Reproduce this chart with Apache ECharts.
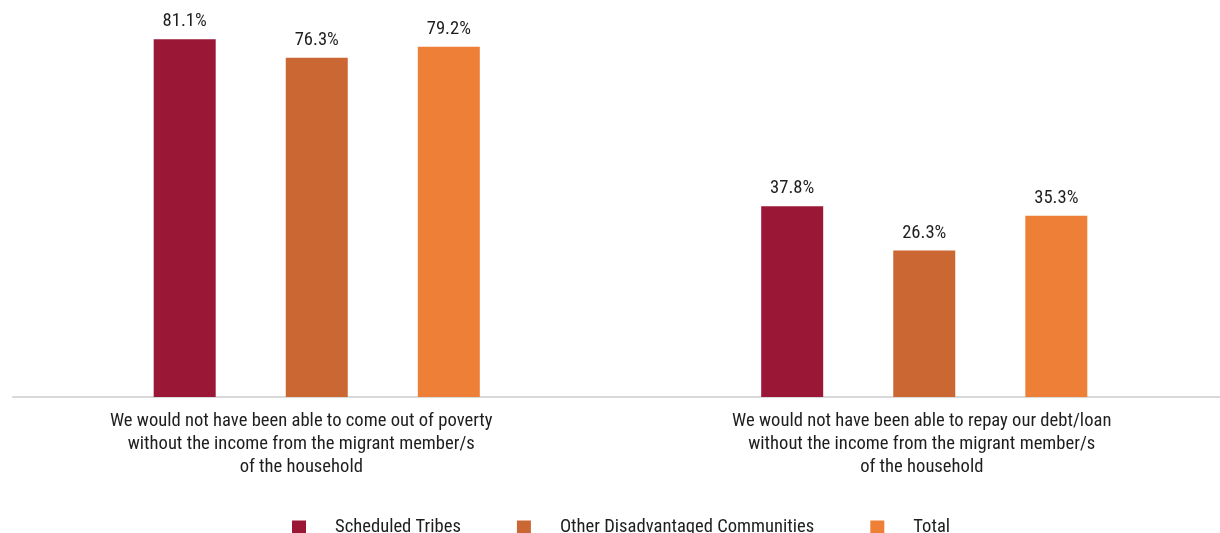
<!DOCTYPE html>
<html>
<head>
<meta charset="utf-8">
<script src="https://cdn.jsdelivr.net/npm/echarts@6/dist/echarts.min.js"></script>
<style>
  html, body { margin: 0; padding: 0; background: #ffffff; overflow: hidden; }
  #chart { width: 1228px; height: 533px; }
</style>
</head>
<body>
<div id="chart"></div>
<script>
// Statements about what the migrant's income made possible
const categories = [
  'We would not have been able to come out of poverty\nwithout the income from the migrant member/s\nof the household',
  'We would not have been able to repay our debt/loan\nwithout the income from the migrant member/s\nof the household'
];

// Share of households agreeing (%)
const seriesNames = ['Scheduled Tribes', 'Other Disadvantaged Communities', 'Total'];
const scheduledTribes = [81.1, 37.8];
const otherDisadvantaged = [76.3, 26.3];
const total = [79.2, 35.3];

const seriesColors = ['#9a1736', '#cb6733', '#ee7f36'];
const FONT = "'Liberation Sans Narrow', 'Roboto Condensed', Roboto, sans-serif";
const FONT_SIZE = 18.6;

const chart = echarts.init(document.getElementById('chart'), null, { renderer: 'canvas' });

function barSeries(name, data, color) {
  return {
    name: name,
    type: 'bar',
    data: data,
    barWidth: 62,
    barGap: '113%',
    itemStyle: { color: color },
    label: {
      show: true,
      position: 'top',
      distance: 8,
      formatter: p => p.value.toFixed(1) + '%',
      color: '#1e1e1e',
      fontFamily: FONT,
      fontSize: FONT_SIZE
    }
  };
}

// The first statement's text block sits a little left of its bar group
function categoryLabel(value, index) {
  const style = index === 0 ? 'shift' : 'plain';
  return value.split('\n').map(line => '{' + style + '|' + line + '}').join('\n');
}

const labelText = {
  color: '#1e1e1e',
  fontFamily: FONT,
  fontSize: FONT_SIZE,
  lineHeight: 22.8
};

chart.setOption({
  animation: false,
  backgroundColor: '#ffffff',
  grid: { left: 13, top: 5, right: 0, bottom: 136 },
  xAxis: {
    type: 'category',
    data: categories,
    axisLine: { show: true, onZero: false, lineStyle: { color: '#d9d9d9', width: 2 } },
    axisTick: { show: false },
    axisLabel: Object.assign({
      interval: 0,
      margin: 13,
      align: 'center',
      formatter: categoryLabel,
      rich: {
        shift: Object.assign({ padding: [0, 31, 0, 0] }, labelText),
        plain: Object.assign({ padding: [0, 5, 0, 0] }, labelText)
      }
    }, labelText)
  },
  yAxis: {
    type: 'value',
    min: -11.7,
    max: 90,
    startValue: -11.7,
    show: false,
    splitLine: { show: false }
  },
  legend: {
    data: seriesNames,
    left: 287,
    top: 513,
    itemWidth: 14,
    itemHeight: 14,
    itemGap: 56,
    icon: 'rect',
    textStyle: {
      color: '#1e1e1e',
      fontFamily: FONT,
      fontSize: FONT_SIZE,
      padding: [0, 0, 0, 24]
    }
  },
  series: [
    barSeries(seriesNames[0], scheduledTribes, seriesColors[0]),
    barSeries(seriesNames[1], otherDisadvantaged, seriesColors[1]),
    barSeries(seriesNames[2], total, seriesColors[2])
  ]
});
</script>
</body>
</html>
